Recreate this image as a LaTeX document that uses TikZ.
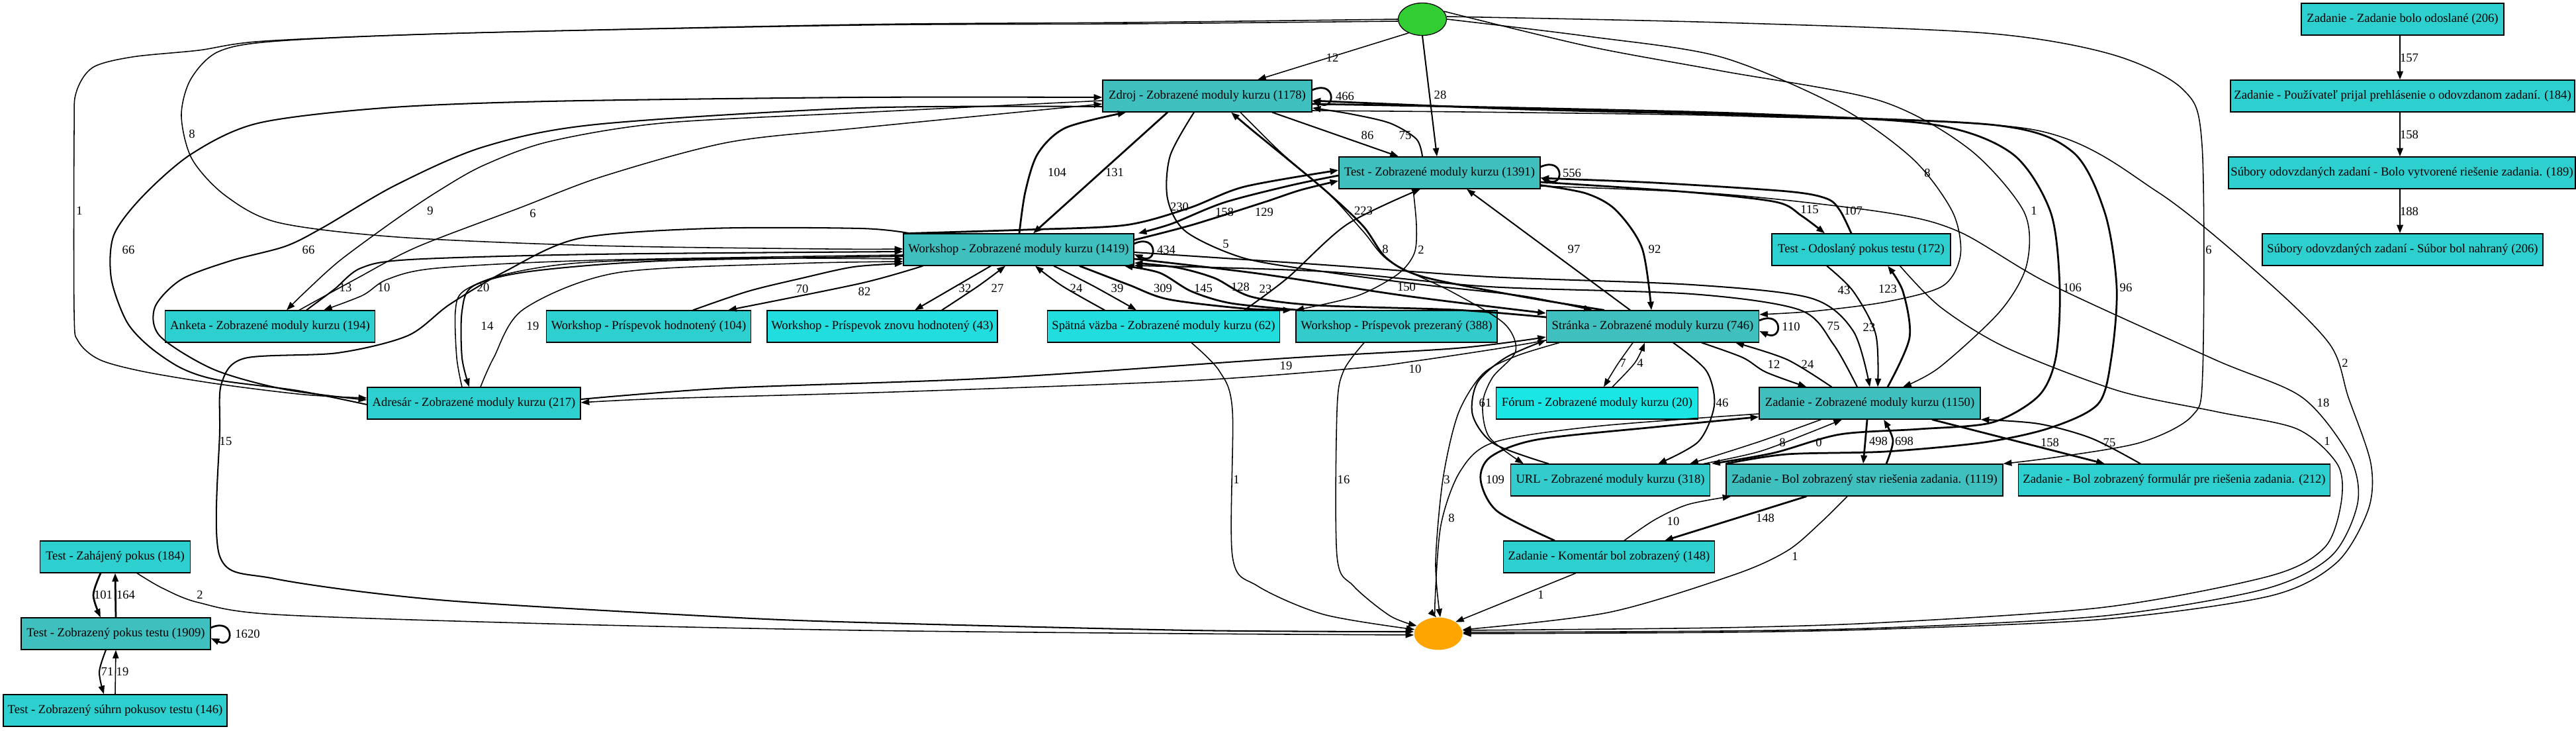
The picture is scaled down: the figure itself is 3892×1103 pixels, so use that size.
\documentclass[tikz,border=0pt]{standalone}
\usepackage{fontspec}
\setmainfont{Liberation Serif}
\usetikzlibrary{calc,shapes.geometric,arrows.meta}
\definecolor{hiA}{RGB}{64,191,191}
\definecolor{hiB}{RGB}{51,203,203}
\definecolor{hiC}{RGB}{46,207,207}
\definecolor{hiD}{RGB}{34,221,221}
\definecolor{hiE}{RGB}{26,230,230}
\definecolor{startg}{RGB}{50,205,50}
\definecolor{endo}{RGB}{255,165,0}

\begin{document}
\begin{tikzpicture}[x=0.7087pt,y=-0.7087pt,
  box/.style={draw,line width=0.9pt,minimum width=#1*0.7087pt,minimum height=34pt,inner sep=0pt,font=\fontsize{13.2}{15}\selectfont},
  lab/.style={font=\fontsize{13.2}{15}\selectfont,inner sep=0pt},
  e/.style={line width=1.1pt,-{Triangle[length=9pt,width=6.5pt]}},
  em/.style={e,line width=1.45pt},
  eh/.style={e,line width=1.95pt}]
% process map: events as boxes, start (green) and end (orange), edge labels = counts
\def\slucka#1{\draw[eh] ($(#1.east)+(0,-9)$) .. controls +(36,-16) and +(36,16) .. ($(#1.east)+(0,7)$);}
\fill[white] (0,0) rectangle (3892,1103);
\useasboundingbox (0,0) rectangle (3892,1103);

\node[ellipse,draw,line width=0.9pt,fill=startg,minimum width=73*0.7087pt,minimum height=49*0.7087pt,inner sep=0pt] (zac) at (2149,29) {};
\node[ellipse,fill=endo,minimum width=73*0.7087pt,minimum height=49*0.7087pt,inner sep=0pt] (kon) at (2173,957) {};
\node[box=316,fill=hiA] (zdroj) at (1824,145) {Zdroj - Zobrazené moduly kurzu (1178)};
\node[box=304,fill=hiA] (testm) at (2175,261) {Test - Zobrazené moduly kurzu (1391)};
\node[box=348,fill=hiA] (wsm) at (1539,377) {Workshop - Zobrazené moduly kurzu (1419)};
\node[box=270,fill=hiC] (testodo) at (2812,377) {Test - Odoslaný pokus testu (172)};
\node[box=317,fill=hiC] (anketa) at (408,493) {Anketa - Zobrazené moduly kurzu (194)};
\node[box=309,fill=hiC] (wshod) at (980,493) {Workshop - Príspevok hodnotený (104)};
\node[box=348,fill=hiD] (wsznovu) at (1333,493) {Workshop - Príspevok znovu hodnotený (43)};
\node[box=351,fill=hiD] (spat) at (1758,493) {Spätná väzba - Zobrazené moduly kurzu (62)};
\node[box=304,fill=hiB] (wsprez) at (2110,493) {Workshop - Príspevok prezeraný (388)};
\node[box=321,fill=hiA] (stranka) at (2497,493) {Stránka - Zobrazené moduly kurzu (746)};
\node[box=322,fill=hiC] (adresar) at (716,609) {Adresár - Zobrazené moduly kurzu (217)};
\node[box=305,fill=hiE] (forum) at (2413,609) {Fórum - Zobrazené moduly kurzu (20)};
\node[box=334,fill=hiA] (zadm) at (2825,609) {Zadanie - Zobrazené moduly kurzu (1150)};
\node[box=301,fill=hiB] (url) at (2433,725) {URL - Zobrazené moduly kurzu (318)};
\node[box=418,fill=hiA] (zadstav) at (2817,725) {Zadanie - Bol zobrazený stav riešenia zadania. (1119)};
\node[box=471,fill=hiC] (zadform) at (3285,725) {Zadanie - Bol zobrazený formulár pre riešenia zadania. (212)};
\node[box=319,fill=hiC] (zadkom) at (2431,841) {Zadanie - Komentár bol zobrazený (148)};
\node[box=306,fill=hiC] (zadodo) at (3630,29) {Zadanie - Zadanie bolo odoslané (206)};
\node[box=520,fill=hiC] (zadprij) at (3630,145) {Zadanie - Používateľ prijal prehlásenie o odovzdanom zadaní. (184)};
\node[box=524,fill=hiC] (subvytv) at (3629,261) {Súbory odovzdaných zadaní - Bolo vytvorené riešenie zadania. (189)};
\node[box=424,fill=hiC] (subnahr) at (3630,377) {Súbory odovzdaných zadaní - Súbor bol nahraný (206)};
\node[box=227,fill=hiC] (testzah) at (174,841) {Test - Zahájený pokus (184)};
\node[box=286,fill=hiA] (testpok) at (175,957) {Test - Zobrazený pokus testu (1909)};
\node[box=338,fill=hiC] (testsuhrn) at (174,1073) {Test - Zobrazený súhrn pokusov testu (146)};

% from start
\draw[e] (zac.225) -- ($(zdroj.north)+(76,0)$);
\node[lab] (q1) at (2013,87) {12};
\draw[em] (zac.south) -- ($(testm.north)+(-4,0)$);
\node[lab] (q2) at (2176,143) {28};
\draw[e] plot[smooth] coordinates {(zac.west) (1700,34) (1300,37) (700,50) (420,62) (330,78) (288,120) (274,175) (290,240) (340,295) (420,336) (600,358) (900,371) (1250,376) ($(wsm.west)+(0,-1)$)};
\node[lab] (q3) at (290,202) {8};
\draw[e] plot[smooth] coordinates {($(zac.west)+(0,3)$) (1700,36) (1300,38) (700,50) (400,62) (300,76) (200,86) (140,102) (115,140) (112,200) (112,470) (118,515) (150,543) (216,561) (330,580) (460,596) ($(adresar.west)+(0,-8)$)};
\node[lab] (q4) at (120,318) {1};
\draw[e] plot[smooth] coordinates {(zac.east) (2400,55) (2600,86) (2780,162) (2890,240) (2950,320) (2962,385) (2935,432) (2849,456) (2740,470) ($(stranka.east)+(0,-18)$)};
\node[lab] (q5) at (2912,261) {8};
\draw[e] plot[smooth] coordinates {(zac.20) (2400,70) (2600,107) (2840,152) (2975,225) (3058,320) (3062,400) (3022,470) (2930,555) ($(zadm.north)+(50,0)$)};
\node[lab] (q6) at (3073,318) {1};
\draw[e] plot[smooth] coordinates {($(zac.east)+(0,-4)$) (2600,34) (3000,50) (3190,82) (3298,135) (3327,220) (3328,560) (3312,628) (3235,668) (3110,690) (zadstav.north east)};
\node[lab] (q7) at (3337,377) {6};

% Zdroj
\slucka{zdroj}
\node[lab] (q8) at (2032,145) {466};
\draw[em] ($(zdroj.south)+(98,0)$) -- ($(testm.north)+(-62,0)$);
\node[lab] (q9) at (2066,204) {86};
\draw[em] plot[smooth] coordinates {($(testm.north)+(-26,0)$) (2140,210) (2100,186) (2040,172) ($(zdroj.east)+(0,18)$)};
\node[lab] (q10) at (2123,204) {75};
\draw[eh] ($(zdroj.south)+(-60,0)$) -- ($(wsm.north)+(22,0)$);
\node[lab] (q11) at (1684,260) {131};
\draw[eh] plot[smooth] coordinates {($(wsm.north)+(1,0)$) (1549,290) (1568,232) (1610,193) ($(zdroj.south west)+(36,0)$)};
\node[lab] (q12) at (1597,260) {104};
\draw[e] plot[smooth] coordinates {($(zdroj.west)+(0,7)$) (1300,170) (1000,186) (829,214) (730,250) (663,288) (600,330) (514,393) (462,440) ($(anketa.north)+(25,0)$)};
\node[lab] (q13) at (650,318) {9};
\draw[e] plot[smooth] coordinates {($(anketa.north)+(44,0)$) (540,420) (630,373) (785,314) (912,266) (1100,215) (1300,193) ($(zdroj.west)+(0,12)$)};
\node[lab] (q14) at (805,322) {6};
\draw[em] plot[smooth] coordinates {($(adresar.west)+(0,2)$) (450,590) (330,574) (274,556) (225,523) (191,485) (168,420) (172,355) (216,296) (290,232) (390,186) (580,163) (829,153) (1300,147) ($(zdroj.west)+(0,2)$)};
\node[lab] (q15) at (194,377) {66};
\draw[em] plot[smooth] coordinates {($(zdroj.west)+(0,16)$) (1300,163) (900,188) (730,222) (597,280) (489,343) (431,372) (348,394) (274,422) (234,464) (242,508) (323,558) (430,588) ($(adresar.west)+(0,-5)$)};
\node[lab] (q16) at (466,377) {66};
\draw[eh] plot[smooth] coordinates {($(zdroj.east)+(0,12)$) (2300,163) (2650,172) (2920,188) (3040,232) (3098,320) (3112,434) (3106,540) (3080,598) (3010,638) (2900,648) (2780,656) (2680,684) ($(url.north east)+(2,0)$)};
\node[lab] (q17) at (3131,434) {106};
\draw[eh] plot[smooth] coordinates {(zadstav.north west) (2700,686) (2849,682) (2998,668) (3098,646) (3170,610) (3190,540) (3198,434) (3180,321) (3131,229) (3015,189) (2650,174) (2300,165) ($(zdroj.east)+(0,7)$)};
\node[lab] (q18) at (3212,434) {96};
\draw[e] plot[smooth] coordinates {($(zdroj.east)+(0,22)$) (2300,170) (2650,176) (3073,196) (3260,290) (3420,420) (3520,520) (3548,600) (3582,700) (3578,770) (3530,850) (3430,900) (3180,935) (2849,950) (2600,955) (kon.east)};
\node[lab] (q19) at (3543,548) {2};
\draw[em] plot[smooth] coordinates {($(zdroj.south)+(-20,0)$) (1768,235) (1764,300) (1792,350) (1880,390) (2005,411) (2150,430) (2300,447) ($(stranka.north west)+(70,0)$)};
\node[lab] (q20) at (1852,368) {5};
\draw[eh] plot[smooth] coordinates {($(stranka.north west)+(88,0)$) (2300,448) (2150,418) (2095,390) (2060,342) (2005,290) (1945,240) (1890,195) ($(zdroj.south)+(36,0)$)};
\node[lab] (q21) at (2060,318) {223};
\draw[e] plot[smooth] coordinates {($(zdroj.south)+(50,0)$) (1935,230) (2010,295) (2060,350) (2100,395) (2192,440) (2272,488) (2290,530) (2255,570) (2240,610) (2250,660) ($(url.north west)+(20,0)$)};
\node[lab] (q22) at (2093,376) {8};

% Workshop and Test
\slucka{wsm}
\node[lab] (q23) at (1762,377) {434};
\slucka{testm}
\node[lab] (q24) at (2375,261) {556};
\draw[eh] plot[smooth] coordinates {($(wsm.north east)+(0,10)$) (1800,340) (1908,306) (1965,287) ($(testm.west)+(0,12)$)};
\node[lab] (q25) at (1910,320) {129};
\draw[eh] plot[smooth] coordinates {($(testm.west)+(0,4)$) (1950,280) (1849,306) (1770,338) ($(wsm.north east)+(6,0)$)};
\node[lab] (q26) at (1850,320) {158};
\draw[eh] plot[smooth] coordinates {($(wsm.north west)+(10,0)$) (1549,347) (1700,340) (1797,314) (1880,282) ($(testm.west)+(0,-4)$)};
\node[lab] (q27) at (1782,312) {230};
\draw[em] plot[smooth] coordinates {($(wsm.north west)+(10,0)$) (1300,345) (1072,345) (875,360) (763,410) (679,460) (616,507) (510,533) (370,541) (335,578) (332,650) (332,840) (415,874) (663,906) (1078,931) (1300,940) (1800,952) ($(kon.west)+(0,-3)$)};
\node[lab] (q28) at (341,666) {15};
\draw[em] plot[smooth] coordinates {($(anketa.north)+(55,0)$) (505,437) (545,405) (620,392) (900,384) ($(wsm.west)+(0,3)$)};
\node[lab] (q29) at (522,434) {13};
\draw[e] plot[smooth] coordinates {($(wsm.west)+(0,8)$) (900,393) (660,405) (585,422) (548,446) ($(anketa.north)+(81,0)$)};
\node[lab] (q30) at (580,434) {10};
\draw[em] plot[smooth] coordinates {($(wsm.west)+(0,10)$) (1000,394) (800,410) (715,432) (698,470) (698,540) ($(adresar.north)+(-7,0)$)};
\node[lab] (q31) at (730,434) {20};
\draw[e] plot[smooth] coordinates {($(adresar.north)+(-18,0)$) (690,540) (688,470) (700,440) (760,415) (875,397) (1100,390) ($(wsm.west)+(0,14)$)};
\node[lab] (q32) at (736,492) {14};
\draw[e] plot[smooth] coordinates {($(adresar.north)+(10,0)$) (746,540) (791,467) (932,412) (1200,398) ($(wsm.west)+(0,18)$)};
\node[lab] (q33) at (805,492) {19};
\draw[em] plot[smooth] coordinates {($(wshod.north)+(67,0)$) (1130,440) (1212,420) (1290,403) ($(wsm.west)+(0,21)$)};
\node[lab] (q34) at (1212,436) {70};
\draw[em] plot[smooth] coordinates {($(wsm.south west)+(30,0)$) (1300,428) ($(wshod.north)+(120,0)$)};
\node[lab] (q35) at (1306,440) {82};
\draw[em] ($(wsm.south)+(-42,0)$) -- ($(wsznovu.north)+(49,0)$);
\node[lab] (q36) at (1458,435) {32};
\draw[em] plot[smooth] coordinates {($(wsznovu.north)+(90,0)$) (1478,432) ($(wsm.south)+(-20,0)$)};
\node[lab] (q37) at (1507,435) {27};
\draw[em] plot[smooth] coordinates {($(spat.north)+(-89,0)$) (1605,432) ($(wsm.south)+(25,0)$)};
\node[lab] (q38) at (1626,435) {24};
\draw[em] plot[smooth] coordinates {($(wsm.south)+(53,0)$) (1652,432) ($(spat.north)+(-41,0)$)};
\node[lab] (q39) at (1688,435) {39};
\draw[eh] plot[smooth] coordinates {($(wsm.south)+(92,0)$) (1705,430) (1765,452) (1880,466) ($(wsprez.north west)+(-6,0)$)};
\node[lab] (q40) at (1757,435) {309};
\draw[eh] plot[smooth] coordinates {($(wsprez.north west)+(6,0)$) (1860,458) (1800,440) (1752,412) ($(wsm.south east)+(-15,0)$)};
\node[lab] (q41) at (1818,435) {145};
\draw[eh] plot[smooth] coordinates {($(stranka.west)+(0,-14)$) (2200,468) (1988,461) (1890,448) (1835,420) (1778,404) ($(wsm.east)+(0,20)$)};
\node[lab] (q42) at (1874,433) {128};
\draw[eh] plot[smooth] coordinates {($(wsm.east)+(0,14)$) (1900,413) (2125,447) ($(stranka.west)+(0,-20)$)};
\node[lab] (q43) at (2125,433) {150};
\draw[em] plot[smooth] coordinates {($(spat.north east)+(-54,0)$) (1945,420) (2035,339) ($(testm.south)+(-29,0)$)};
\node[lab] (q44) at (1912,436) {23};
\draw[e] plot[smooth] coordinates {($(testm.south)+(-40,0)$) (2140,340) (2137,382) (2112,414) (2050,447) (wsprez.north west)};
\node[lab] (q45) at (2147,377) {2};
\draw[em] plot[smooth] coordinates {($(zadm.north)+(-19,0)$) (2770,520) (2719,468) (2556,444) (2250,433) (2000,410) ($(wsm.east)+(0,24)$)};
\node[lab] (q46) at (2770,492) {75};
\draw[em] plot[smooth] coordinates {($(wsm.east)+(0,4)$) (2000,400) (2250,418) (2556,430) (2735,450) (2800,500) (zadm.north)};
\node[lab] (q47) at (2824,494) {23};

% Test
\draw[eh] plot[smooth] coordinates {($(testm.east)+(0,14)$) (2550,290) (2683,305) (2722,326) ($(testodo.north)+(-55,0)$)};
\node[lab] (q48) at (2734,316) {115};
\draw[eh] plot[smooth] coordinates {($(testodo.north)+(-15,0)$) (2780,318) (2760,300) (2700,289) (2500,276) ($(testm.east)+(0,8)$)};
\node[lab] (q49) at (2800,318) {107};
\draw[eh] plot[smooth] coordinates {($(testm.south east)+(0,-6)$) (2396,292) (2441,317) (2481,375) ($(stranka.north)+(-2,0)$)};
\node[lab] (q50) at (2500,376) {92};
\draw[em] ($(stranka.north)+(-34,0)$) -- ($(testm.south)+(41,0)$);
\node[lab] (q51) at (2378,376) {97};
\draw[e] plot[smooth] coordinates {($(testm.east)+(0,20)$) (2600,293) (2849,321) (2960,350) (3097,429) (3346,543) (3478,600) (3550,690) (3562,760) (3522,840) (3420,890) (3180,930) (2849,948) (2600,953) ($(kon.east)+(0,-2)$)};
\node[lab] (q52) at (3510,608) {18};
\draw[em] plot[smooth] coordinates {($(testodo.south)+(-52,0)$) (2800,440) (2834,505) ($(zadm.north)+(12,0)$)};
\node[lab] (q53) at (2786,438) {43};
\draw[eh] plot[smooth] coordinates {($(zadm.north)+(27,0)$) (2885,510) (2875,440) ($(testodo.south)+(40,0)$)};
\node[lab] (q54) at (2852,436) {123};
\draw[e] plot[smooth] coordinates {($(testodo.south east)+(-77,0)$) (2932,464) (3031,525) (3200,590) (3350,622) (3471,648) (3532,702) (3537,760) (3512,827) (3429,870) (3180,917) (2849,940) (2600,948) ($(kon.east)+(0,-5)$)};
\node[lab] (q55) at (3516,666) {1};

% Stranka
\slucka{stranka}
\node[lab] (q56) at (2706,493) {110};
\draw[e] plot[smooth] coordinates {($(stranka.south)+(-30,0)$) (2444,550) ($(forum.north)+(10,0)$)};
\node[lab] (q57) at (2452,548) {7};
\draw[e] plot[smooth] coordinates {($(forum.north)+(23,0)$) (2470,548) ($(stranka.south)+(-12,0)$)};
\node[lab] (q58) at (2478,548) {4};
\draw[em] plot[smooth] coordinates {($(stranka.south)+(74,0)$) (2633,540) (2668,562) ($(zadm.north west)+(72,0)$)};
\node[lab] (q59) at (2680,550) {12};
\draw[em] plot[smooth] coordinates {($(zadm.north west)+(110,0)$) (2700,543) ($(stranka.south east)+(-36,0)$)};
\node[lab] (q60) at (2731,550) {24};
\draw[em] plot[smooth] coordinates {($(stranka.south)+(31,0)$) (2578,560) (2590,612) (2566,667) ($(url.north)+(72,0)$)};
\node[lab] (q61) at (2602,608) {46};
\draw[e] plot[smooth] coordinates {($(stranka.south west)+(20,0)$) (2290,538) (2240,565) (2203,625) (2180,724) (2169,850) ($(kon.north)+(3,0)$)};
\node[lab] (q62) at (2186,724) {3};
\draw[em] plot[smooth] coordinates {($(url.north west)+(58,0)$) (2257,670) (2225,627) (2232,578) (2275,540) ($(stranka.south west)+(0,-4)$)};
\node[lab] (q63) at (2244,608) {61};
\draw[em] plot[smooth] coordinates {($(adresar.east)+(0,-6)$) (1100,586) (1500,571) (1943,541) (2200,526) ($(stranka.west)+(0,16)$)};
\node[lab] (q64) at (1943,552) {19};
\draw[e] plot[smooth] coordinates {($(stranka.west)+(0,21)$) (2260,527) (2140,545) (2051,556) (1796,575) (1350,592) (1000,602) ($(adresar.east)+(0,-1)$)};
\node[lab] (q65) at (2138,557) {10};

% Zadanie
\draw[e] plot[smooth] coordinates {($(zadm.south west)+(94,0)$) (2658,667) ($(url.north east)+(-31,0)$)};
\node[lab] (q66) at (2693,668) {8};
\draw[e] plot[smooth] coordinates {($(url.north east)+(-10,0)$) (2658,682) (2735,653) ($(zadm.south)+(-42,0)$)};
\node[lab] (q67) at (2748,668) {0};
\draw[eh] plot[smooth] coordinates {($(zadm.south)+(-4,0)$) (2818,668) ($(zadstav.north)+(-2,0)$)};
\node[lab] (q68) at (2838,666) {498};
\draw[eh] plot[smooth] coordinates {($(zadstav.north)+(33,0)$) (2860,665) ($(zadm.south)+(21,0)$)};
\node[lab] (q69) at (2877,666) {698};
\draw[eh] ($(zadm.south)+(94,0)$) -- ($(zadform.north)+(-105,0)$);
\node[lab] (q70) at (3097,668) {158};
\draw[em] plot[smooth] coordinates {($(zadform.north)+(-51,0)$) (3160,662) (3080,640) (zadm.south east)};
\node[lab] (q71) at (3187,668) {75};
\draw[eh] plot[smooth] coordinates {($(zadkom.north west)+(78,0)$) (2262,772) (2237,725) (2252,690) (2322,664) (2500,645) ($(zadm.south west)+(0,-4)$)};
\node[lab] (q72) at (2259,724) {109};
\draw[e] plot[smooth] coordinates {($(zadm.west)+(0,16)$) (2410,644) (2257,668) (2206,712) (2177,793) (2168,910) ($(kon.north)+(-3,0)$)};
\node[lab] (q73) at (2193,782) {8};
\draw[eh] ($(zadstav.south west)+(122,0)$) -- ($(zadkom.north)+(84,0)$);
\node[lab] (q74) at (2667,782) {148};
\draw[e] plot[smooth] coordinates {($(zadkom.north)+(23,0)$) (2500,785) (2550,762) ($(zadstav.south west)+(8,0)$)};
\node[lab] (q75) at (2528,787) {10};
\draw[e] plot[smooth] coordinates {($(zadstav.south)+(-26,0)$) (2750,790) (2700,832) (2620,868) (2430,925) ($(kon.east)+(0,-6)$)};
\node[lab] (q76) at (2712,840) {1};
\draw[e] ($(zadkom.south west)+(110,0)$) -- (kon.north east);
\node[lab] (q77) at (2328,898) {1};
\draw[e] plot[smooth] coordinates {($(wsprez.south)+(-49,0)$) (2030,560) (2020,620) (2020,840) (2045,885) (2100,930) (kon.160)};
\node[lab] (q78) at (2030,724) {16};
\draw[e] plot[smooth] coordinates {($(spat.south)+(42,0)$) (1842,560) (1862,620) (1862,840) (1900,885) (2000,928) (kon.170)};
\node[lab] (q79) at (1868,724) {1};

% submissions column
\draw[eh] ($(zadodo.south)+(-4,0)$) -- ($(zadprij.north)+(-4,0)$);
\node[lab] (q80) at (3640,87) {157};
\draw[eh] ($(zadprij.south)+(-4,0)$) -- ($(subvytv.north)+(-3,0)$);
\node[lab] (q81) at (3640,203) {158};
\draw[eh] ($(subvytv.south)+(-3,0)$) -- ($(subnahr.north)+(-4,0)$);
\node[lab] (q82) at (3640,319) {188};

% test attempts
\draw[eh] plot[smooth] coordinates {($(testzah.south)+(-22,0)$) (141,899) ($(testpok.north)+(-23,0)$)};
\node[lab] (q83) at (156,898) {101};
\draw[eh] (testpok.north) -- (testzah.south);
\node[lab] (q84) at (190,898) {164};
\slucka{testpok}
\node[lab] (q85) at (374,957) {1620};
\draw[em] plot[smooth] coordinates {($(testpok.south)+(-15,0)$) (150,1015) ($(testsuhrn.north)+(-17,0)$)};
\node[lab] (q86) at (162,1014) {71};
\draw[e] (testsuhrn.north) -- (testpok.south);
\node[lab] (q87) at (185,1014) {19};
\draw[e] plot[smooth] coordinates {($(testzah.south)+(33,0)$) (245,888) (300,910) (415,928) (829,942) (1300,952) (1800,957) ($(kon.west)+(0,2)$)};
\node[lab] (q88) at (302,898) {2};
\end{tikzpicture}
\end{document}
